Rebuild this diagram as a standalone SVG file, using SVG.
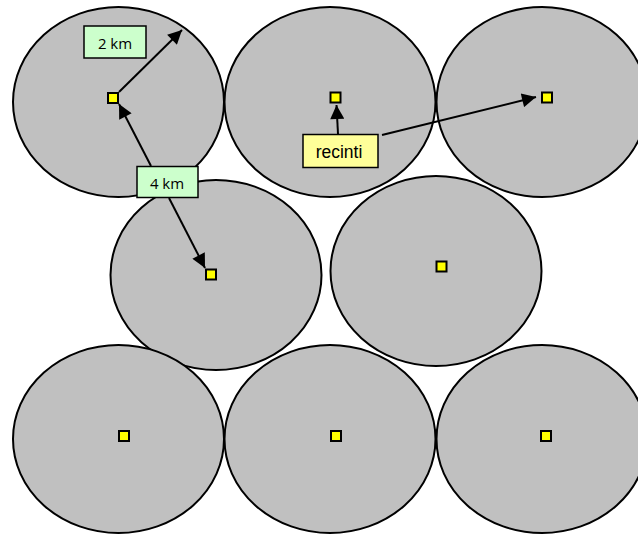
<svg xmlns="http://www.w3.org/2000/svg" width="638" height="535" viewBox="0 0 638 535">
  <style>
    .zone { fill: #c0c0c0; stroke: #000; stroke-width: 2; }
    .site { fill: #ffff00; stroke: #000; stroke-width: 2; }
    .dist { fill: #ccffcc; stroke: #000; stroke-width: 1.5; }
    .tag { fill: #ffff99; stroke: #000; stroke-width: 1.5; }
    .lbl { font-family: "Open Sans", "Noto Sans", sans-serif; font-size: 15px; fill: #000; text-anchor: middle; }
    .lbl2 { font-family: "Liberation Sans", Arial, sans-serif; font-size: 17.5px; fill: #000; text-anchor: middle; }
    .conn { stroke: #000; stroke-width: 2; fill: none; marker-end: url(#head); }
  </style>
  <defs>
    <marker id="head" viewBox="0 0 10 10" refX="10" refY="5" markerWidth="8" markerHeight="7" markerUnits="strokeWidth" orient="auto">
      <path d="M0,0 L10,5 L0,10 z" fill="#000"/>
    </marker>
  </defs>

  <!-- coverage areas -->
  <g id="zones">
    <ellipse class="zone" cx="118.5" cy="102" rx="105.5" ry="95"/>
    <ellipse class="zone" cx="330" cy="102" rx="105.5" ry="95"/>
    <ellipse class="zone" cx="542" cy="102" rx="105.5" ry="95"/>
    <ellipse class="zone" cx="216" cy="275" rx="105.5" ry="95"/>
    <ellipse class="zone" cx="436" cy="271" rx="105.5" ry="95"/>
    <ellipse class="zone" cx="118.5" cy="439" rx="105.5" ry="94"/>
    <ellipse class="zone" cx="330" cy="439" rx="105.5" ry="94"/>
    <ellipse class="zone" cx="542" cy="439" rx="105.5" ry="94"/>
  </g>

  <!-- sites -->
  <g id="site1"><rect class="site" x="108" y="93" width="10" height="10"/></g>
  <g id="site2"><rect class="site" x="330.5" y="92.5" width="10" height="10"/></g>
  <g id="site3"><rect class="site" x="542" y="92.5" width="10" height="10"/></g>
  <g id="site4"><rect class="site" x="206" y="269.5" width="10" height="10"/></g>
  <g id="site5"><rect class="site" x="436.5" y="261.5" width="10" height="10"/></g>
  <g id="site6"><rect class="site" x="119" y="431" width="10" height="10"/></g>
  <g id="site7"><rect class="site" x="331" y="431" width="10" height="10"/></g>
  <g id="site8"><rect class="site" x="541" y="431" width="10" height="10"/></g>

  <!-- connectors -->
  <g id="connectors">
    <line class="conn" x1="119" y1="92" x2="182" y2="30"/>
    <line class="conn" x1="151" y1="166" x2="119" y2="104"/>
    <line class="conn" x1="169" y1="198" x2="205" y2="268"/>
    <line class="conn" x1="338" y1="134" x2="336.5" y2="105"/>
    <line class="conn" x1="382" y1="135" x2="536" y2="97"/>
  </g>

  <!-- labels -->
  <g id="label-2km">
    <rect class="dist" x="84" y="26" width="62" height="32"/>
    <text class="lbl" x="115" y="48.5">2 km</text>
  </g>
  <g id="label-4km">
    <rect class="dist" x="137" y="166.5" width="61" height="31"/>
    <text class="lbl" x="167" y="188.5">4 km</text>
  </g>
  <g id="label-recinti">
    <rect class="tag" x="303" y="134.5" width="75" height="33"/>
    <text class="lbl2" x="339" y="157.5">recinti</text>
  </g>
</svg>
